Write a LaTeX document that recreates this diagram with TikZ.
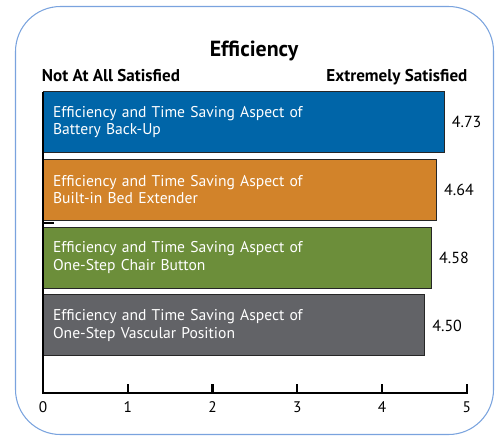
\documentclass[tikz,border=0pt]{standalone}
\usepackage{fontspec}
\setmainfont{PT Sans}
\usetikzlibrary{positioning}

\definecolor{framecol}{RGB}{122,163,222}
\definecolor{barblue}{RGB}{0,101,168}
\definecolor{barorange}{RGB}{210,131,42}
\definecolor{bargreen}{RGB}{108,142,58}
\definecolor{bargray}{RGB}{98,99,103}

\begin{document}
\begin{tikzpicture}[x=0.75pt, y=-0.75pt]
% STYLES
\tikzset{%
    bar/.style={%
rectangle,
draw=black!85,
line width=0.8pt,
inner xsep=6.75pt,
minimum height=45.75pt,
anchor=west,
align=left,
text=white,
font=\fontsize{11.7}{13}\selectfont
                          },
    value/.style={font=\fontsize{12}{13}\selectfont, inner sep=0pt},
    axis/.style={line width=1.6pt, black},
    heading/.style={font=\bfseries\fontsize{12.8}{14}\selectfont, inner sep=0pt}
             }

\useasboundingbox (0,0) rectangle (499,435);
% Frame
\draw[framecol, line width=0.8pt, rounded corners=33.75pt] (15.5,6.5) rectangle (493.5,434.5);

% Titles
\node[heading, font=\bfseries\fontsize{16.4}{18}\selectfont, anchor=base] (title) at (254,57) {Efficiency};
\node[heading, anchor=base west] (low) at (41.7,81.7) {Not At All Satisfied};
\node[heading, anchor=base east] (high) at (467.7,81.7) {Extremely Satisfied};

% Draw bars
\foreach \val/\col/\what [count=\i] in {4.73/barblue/Battery Back-Up,
    4.64/barorange/Built-in Bed Extender,
    4.58/bargreen/One-Step Chair Button,
    4.50/bargray/One-Step Vascular Position}
{
    \pgfmathsetmacro{\w}{\val*63.5625}
    \pgfmathsetmacro{\tw}{\w-14.3}
    \node[bar, fill=\col, minimum width=\w pt, text width=\tw pt]
        (bar\i) at (43,{122+67.8*(\i-1)})
        {Efficiency and Time Saving Aspect of\\\what};
    \node[value, right=5pt of bar\i] (val\i) {\val};
}

% Draw axis
\coordinate (origin) at (43,392.7);
\coordinate (top) at (43,91.5);
\draw[axis] (top) -- (origin) -- ++(423.75,0) -- ++(0,-8.5);
\draw[axis] (43,223) -- ++(11,0);
\foreach \k in {0,...,5}
{
    \ifnum\k>0 \ifnum\k<5 \draw[axis] (43+84.75*\k,392.7) -- ++(0,-8.5); \fi\fi
    \node[value, font=\fontsize{11.5}{13}\selectfont, anchor=base] (tick\k) at (43+84.75*\k,412.5) {\k};
}
\end{tikzpicture}
\end{document}
